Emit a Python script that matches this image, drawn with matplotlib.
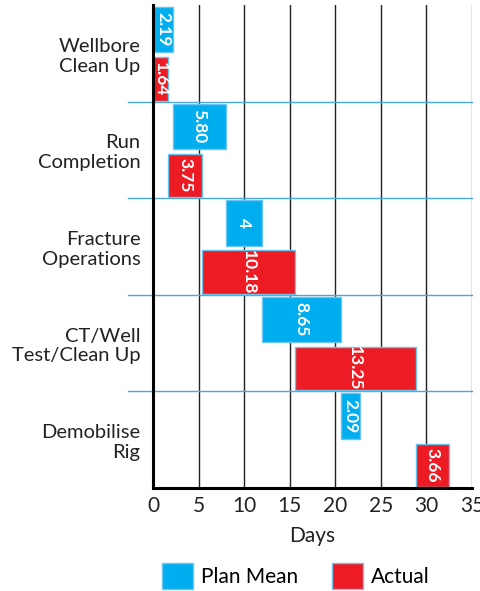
import matplotlib
matplotlib.use("Agg")
import matplotlib.pyplot as plt
from matplotlib.patches import Patch
import numpy as np

categories = ["Wellbore\nClean Up", "Run\nCompletion", "Fracture\nOperations",
              "CT/Well\nTest/Clean Up", "Demobilise\nRig"]
plan = [2.19, 5.80, 4, 8.65, 2.09]
plan_labels = ["2.19", "5.80", "4", "8.65", "2.09"]
actual = [1.64, 3.75, 10.18, 13.25, 3.66]
actual_labels = ["1.64", "3.75", "10.18", "13.25", "3.66"]
xticks = [0, 5, 10, 15, 20, 25, 30, 35]

BLUE = "#00AEEF"
RED = "#ED1C24"
EDGE = "#6cc4ee"
FONT = ["Lato", "DejaVu Sans"]
plt.rcParams['font.family'] = FONT

fig = plt.figure(figsize=(4.81, 5.91), dpi=100)
ax = fig.add_axes([153/481, 1-488/591, (472-153)/481, (488-5)/591])

plan_start = np.concatenate([[0], np.cumsum(plan)[:-1]])
act_start = np.concatenate([[0], np.cumsum(actual)[:-1]])
idx = np.arange(len(categories))

ax.barh(idx + 0.255, plan, left=plan_start, height=0.47, color=BLUE,
        edgecolor=EDGE, linewidth=1, zorder=3)
ax.barh(idx + 0.765, actual, left=act_start, height=0.45, color=RED,
        edgecolor=EDGE, linewidth=1, zorder=3)

for i in idx:
    ax.text(plan_start[i] + plan[i]/2, i + 0.255, plan_labels[i], rotation=270,
            ha='center', va='center', color='white', fontweight='bold',
            fontsize=12.5, zorder=4)
    ax.text(act_start[i] + actual[i]/2, i + 0.765, actual_labels[i], rotation=270,
            ha='center', va='center', color='white', fontweight='bold',
            fontsize=12.5, zorder=4)

ax.set_xlim(0, 35)
ax.set_ylim(5, 0)
ax.set_xticks(xticks)
ax.set_xticklabels([str(t) for t in xticks], fontsize=15, color='#222')
ax.set_yticks(idx + 0.5)
ax.set_yticklabels(categories, fontsize=14.5, color='#222', ha='right',
                   linespacing=1.2)
ax.tick_params(axis='x', length=0, pad=6)
ax.tick_params(axis='y', length=0, pad=9)

for t in xticks[1:]:
    ax.axvline(t, color='#222' if t < 35 else '#777', linewidth=1, zorder=1)

for b in [1, 2, 3, 4]:
    ax.plot([-0.078, 1.0], [b, b], color='#4aa8dc', linewidth=1,
            transform=ax.get_yaxis_transform(), clip_on=False, zorder=2)

for s in ['top', 'right']:
    ax.spines[s].set_visible(False)
ax.spines['left'].set_linewidth(2.2)
ax.spines['bottom'].set_linewidth(2.2)
ax.spines['left'].set_zorder(5)
ax.spines['bottom'].set_zorder(5)

ax.set_xlabel("Days", fontsize=15, color='#222', labelpad=7)

handles = [Patch(facecolor=BLUE, edgecolor=EDGE, label="Plan Mean"),
           Patch(facecolor=RED, edgecolor=EDGE, label="Actual")]
fig.legend(handles=handles, loc='lower center', bbox_to_anchor=(0.615, -0.028),
           ncol=2, frameon=False, fontsize=15, handlelength=1.5,
           handleheight=1.5, columnspacing=1.6, handletextpad=0.4)

fig.savefig("out.png", dpi=100)
